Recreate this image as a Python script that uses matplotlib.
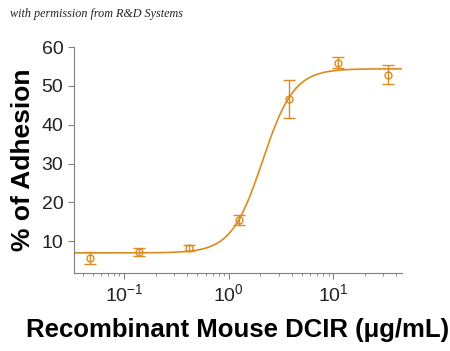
import numpy as np
import matplotlib
matplotlib.use('Agg')
import matplotlib.pyplot as plt

plt.rcParams['font.family'] = ['Liberation Sans', 'DejaVu Sans']
plt.rcParams['mathtext.default'] = 'regular'

# measured points
conc = [0.047, 0.139, 0.414, 1.25, 3.75, 11.0, 33.0]
adhesion = [5.7, 7.2, 8.3, 15.5, 46.6, 56.0, 52.9]
err = [1.5, 1.0, 0.8, 1.3, 4.9, 1.5, 2.4]

# 4PL fit parameters
bottom, top, ec50, hill = 7.0, 54.4, 2.1, 2.9

color = '#DB8B1F'

fig = plt.figure(figsize=(4.5, 3.51), dpi=100)
ax = fig.add_axes([0.164, 0.222, 0.729, 0.644])

xs = np.logspace(np.log10(0.033), np.log10(45), 300)
ys = bottom + (top - bottom) / (1 + (ec50 / xs) ** hill)
ax.plot(xs, ys, color=color, lw=1.2)
ax.errorbar(conc, adhesion, yerr=err, fmt='o', mfc='none', mec=color,
            ecolor=color, ms=5, mew=1.0, elinewidth=1.0, capsize=4, capthick=1.0)

ax.set_xscale('log')
ax.set_xlim(0.033, 45)
ax.set_ylim(1.8, 60)
ax.set_yticks([10, 20, 30, 40, 50, 60])
for s in ['top', 'right']:
    ax.spines[s].set_visible(False)
for s in ['left', 'bottom']:
    ax.spines[s].set_color('#808080')
ax.tick_params(which='both', color='#808080', labelsize=14, labelcolor='#222222')
ax.tick_params(which='major', length=4)
ax.tick_params(which='minor', length=2.5)

ax.set_ylabel('% of Adhesion', fontsize=19, fontweight='bold', labelpad=5)
ax.set_xlabel('Recombinant Mouse DCIR (\u03bcg/mL)', fontsize=18.5, fontweight='bold', labelpad=9)

fig.text(0.022, 0.952, 'with permission from R&D Systems', fontsize=8.7,
         style='italic', family='Liberation Serif', color='#222222')

fig.savefig('out.png', dpi=100)
